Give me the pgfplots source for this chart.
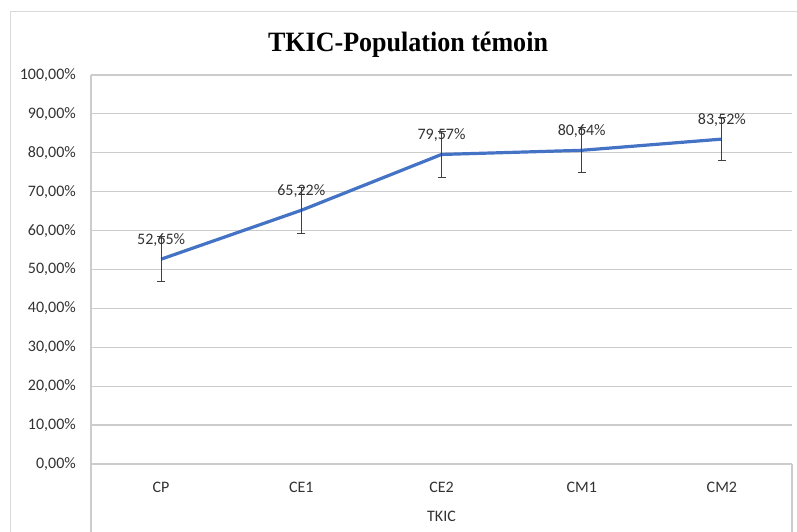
\documentclass[border=0pt]{standalone}
\usepackage{pgfplots}
\pgfplotsset{compat=1.18}
\usepackage{fontspec}
\setmainfont{Carlito}
\newfontfamily\titlefont{Liberation Serif}
\definecolor{exblue}{RGB}{68,114,196}
\definecolor{gridgray}{RGB}{204,204,204}
\definecolor{bordergray}{RGB}{217,217,217}
\definecolor{txt}{RGB}{50,50,50}
\begin{document}
\begin{tikzpicture}
\path[use as bounding box] (0,0) rectangle (797bp,532bp);
\draw[bordergray, line width=1bp] (10bp,0) -- (10bp,520bp) -- (797bp,520bp);
\node[font=\titlefont\bfseries\fontsize{28bp}{32bp}\selectfont, text=black, anchor=base, xscale=0.93, inner sep=0pt] at (408bp,480.5bp) {TKIC-Population témoin};
\begin{axis}[
  at={(91bp,68bp)}, anchor=south west,
  scale only axis, width=701bp, height=389bp,
  xmin=-0.5, xmax=4.5, ymin=0, ymax=100,
  xtick={0,1,2,3,4}, xticklabels={CP,CE1,CE2,CM1,CM2},
  ytick={0,10,...,100},
  ymajorgrids, grid style={gridgray, line width=1.2bp},
  axis line style={draw=none}, tick style={draw=none},
  clip=false,
  font=\fontsize{16bp}{19bp}\selectfont,
  /pgf/number format/assume math mode=true,
  yticklabel={\pgfmathprintnumber[fixed,fixed zerofill,precision=2,use comma]{\tick}\%},
  yticklabel style={anchor=east, inner sep=0pt, xshift=-15bp, text=txt},
  xticklabel style={anchor=center, inner sep=0pt, yshift=-23bp, text=txt},
  xlabel={TKIC},
  xlabel style={at={(axis description cs:0.5,0)}, anchor=center, inner sep=0pt, yshift=-52bp, text=txt},
  nodes near coords={\pgfmathprintnumber[fixed,fixed zerofill,precision=2,use comma]{\pgfplotspointmeta}\%},
  every node near coord/.append style={anchor=center, yshift=19bp, inner sep=0pt, text=txt, font=\fontsize{16bp}{19bp}\selectfont},
]
\addplot[exblue, line width=3.2bp, mark=none,
  error bars/.cd, y dir=both, y explicit,
  error bar style={line width=0.9bp, color=black!75},
  error mark options={rotate=90, mark size=4bp, line width=0.9bp, black!75}]
  coordinates {
  (0,52.65) +- (0,5.85)
  (1,65.22) +- (0,5.9)
  (2,79.57) +- (0,5.85)
  (3,80.64) +- (0,5.8)
  (4,83.52) +- (0,5.6)
  };
\end{axis}
\draw[gridgray, line width=1.2bp] (91bp,457bp) -- (91bp,0);
\draw[gridgray, line width=1.2bp] (792bp,68bp) -- (792bp,0);
\end{tikzpicture}
\end{document}
